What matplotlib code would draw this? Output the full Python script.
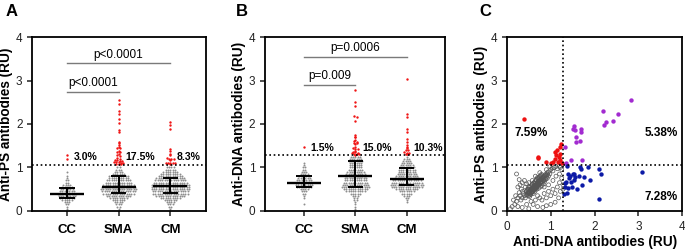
import numpy as np
import matplotlib.pyplot as plt

plt.rcParams['font.family'] = ['Liberation Sans', 'DejaVu Sans']

groups = ['CC', 'SMA', 'CM']

# y rows used for the grey (below cut-off) dots, counts per row
rows = [0.05, 0.10, 0.15, 0.20, 0.25, 0.30, 0.35, 0.40, 0.45, 0.50, 0.55, 0.60, 0.65,
        0.70, 0.75, 0.80, 0.85, 0.90, 0.95, 1.00, 1.05, 1.10, 1.15, 1.20, 1.25]

# Panel A - anti-PS
ps_cc_counts = [1, 1, 2, 3, 5, 7, 8, 9, 7, 6, 5, 4, 2, 2, 1, 1, 0, 1, 0, 0, 0, 0, 0, 0, 0]
ps_sma_counts = [1, 2, 3, 4, 6, 8, 11, 14, 15, 16, 15, 14, 12, 11, 9, 9, 6, 4, 3, 2, 0, 0, 0, 0, 0]
ps_cm_counts = [1, 2, 3, 4, 6, 9, 13, 16, 16, 17, 17, 17, 15, 14, 13, 11, 9, 7, 5, 4, 0, 0, 0, 0, 0]
ps_cc_red = [1.20, 1.29]
ps_sma_red = [2.55, 2.47, 2.31, 2.22, 2.11, 2.03, 1.86, 1.81, 1.59, 1.56, 1.52, 1.48, 1.44, 1.44,
              1.39, 1.36, 1.35, 1.31, 1.29, 1.26, 1.22, 1.20, 1.17, 1.17, 1.15, 1.15, 1.13, 1.13,
              1.12, 1.10, 1.10, 1.08, 1.08, 1.08]
ps_cm_red = [2.05, 1.98, 1.89, 1.42, 1.38, 1.31, 1.29, 1.22, 1.19, 1.19, 1.19, 1.17, 1.11, 1.11,
             1.10, 1.10, 1.10, 1.08]
ps_median = [0.39, 0.56, 0.57]
ps_q1 = [0.29, 0.42, 0.41]
ps_q3 = [0.52, 0.80, 0.76]
ps_cut = 1.05
ps_pct = ['3.0%', '17.5%', '8.3%']

# Panel B - anti-DNA
dna_cc_counts = [0, 0, 1, 0, 0, 1, 1, 2, 3, 4, 7, 8, 8, 7, 6, 5, 4, 3, 2, 2, 1, 1, 0, 0, 0]
dna_sma_counts = [1, 1, 1, 1, 2, 2, 3, 5, 9, 11, 13, 12, 11, 10, 10, 9, 9, 8, 7, 6, 6, 6, 7, 6, 5]
dna_cm_counts = [0, 0, 0, 1, 1, 2, 3, 5, 7, 10, 14, 15, 14, 13, 11, 10, 9, 8, 8, 7, 6, 5, 4, 3, 1]
dna_cc_red = [1.48]
dna_sma_red = [2.78, 2.51, 2.41, 2.18, 2.15, 2.07, 1.75, 1.71, 1.69, 1.63, 1.62, 1.59, 1.56, 1.56,
               1.54, 1.48, 1.45, 1.43, 1.42, 1.39, 1.36, 1.36, 1.34, 1.33, 1.31, 1.31, 1.31, 1.29]
dna_cm_red = [3.03, 2.24, 2.15, 1.88, 1.82, 1.65, 1.59, 1.52, 1.48, 1.45, 1.40, 1.40, 1.36, 1.34,
              1.34, 1.31, 1.31, 1.30]
dna_median = [0.65, 0.81, 0.74]
dna_q1 = [0.54, 0.56, 0.60]
dna_q3 = [0.80, 1.14, 0.99]
dna_cut = 1.28
dna_pct = ['1.5%', '15.0%', '10.3%']

# Panel C - anti-DNA (x) vs anti-PS (y)
neg_x = [0.45, 0.48, 0.50, 0.52, 0.53, 0.55, 0.56, 0.58, 0.60, 0.60, 0.62, 0.63, 0.65, 0.66, 0.68,
         0.70, 0.70, 0.72, 0.73, 0.75, 0.76, 0.78, 0.80, 0.80, 0.82, 0.84, 0.85, 0.88, 0.90, 0.92,
         0.95, 0.98, 1.00, 1.03, 1.05, 1.08, 1.12, 1.15, 1.20, 0.40, 0.42, 0.38, 0.44, 0.47, 0.50,
         0.52, 0.55, 0.57, 0.60, 0.62, 0.64, 0.66, 0.68, 0.70, 0.72, 0.74, 0.76, 0.78, 0.80, 0.83,
         0.86, 0.88, 0.92, 0.95, 0.35, 0.32, 0.30, 0.36, 0.33, 0.28, 0.25, 0.22, 0.18, 0.12, 0.08,
         0.15, 0.20, 0.25, 0.30, 0.28, 0.22, 0.40, 0.45, 0.35, 0.75, 0.80, 0.85, 0.90, 0.95, 1.00,
         1.05, 1.10, 1.15, 1.20, 1.22, 1.18, 1.10, 1.00, 0.90, 0.82, 0.70, 0.60, 0.55, 0.65, 0.70,
         0.85, 0.95, 1.05, 1.12, 1.20, 1.25, 1.28, 1.28, 0.50, 0.45, 0.35, 0.25, 1.25, 1.22, 0.98,
         0.90, 0.75, 0.65, 0.58, 0.50, 0.42, 0.54, 0.59, 0.64, 0.69, 0.57, 0.62, 0.67, 0.72, 0.49,
         0.46, 0.77, 0.61, 0.66, 0.71, 0.53, 0.58, 0.82, 0.87,
         0.48, 0.51, 0.54, 0.57, 0.60, 0.63, 0.66, 0.69, 0.72, 0.75, 0.78, 0.81, 0.84, 0.87, 0.50,
         0.53, 0.56, 0.59, 0.62, 0.65, 0.68, 0.71, 0.74, 0.77, 0.80, 0.83, 0.46, 0.49, 0.52, 0.55,
         0.58, 0.61, 0.64, 0.67, 0.70, 0.73, 0.76, 0.79, 0.90, 0.93]
neg_y = [0.38, 0.42, 0.45, 0.40, 0.48, 0.50, 0.44, 0.52, 0.55, 0.47, 0.58, 0.50, 0.60, 0.54, 0.62,
         0.65, 0.57, 0.68, 0.60, 0.70, 0.64, 0.72, 0.75, 0.66, 0.78, 0.70, 0.80, 0.84, 0.78, 0.88,
         0.90, 0.85, 0.95, 0.98, 0.92, 1.00, 1.02, 0.97, 1.03, 0.35, 0.30, 0.40, 0.45, 0.50, 0.55,
         0.33, 0.38, 0.60, 0.40, 0.65, 0.45, 0.70, 0.50, 0.75, 0.52, 0.78, 0.55, 0.82, 0.58, 0.62,
         0.68, 0.72, 0.75, 0.80, 0.30, 0.25, 0.35, 0.45, 0.50, 0.42, 0.30, 0.22, 0.15, 0.10, 0.05,
         0.25, 0.35, 0.55, 0.60, 0.72, 0.85, 0.70, 0.62, 0.65, 0.30, 0.25, 0.40, 0.30, 0.45, 0.35,
         0.50, 0.40, 0.55, 0.65, 0.45, 0.30, 0.20, 0.15, 0.12, 0.08, 0.10, 0.15, 0.22, 0.25, 0.35,
         0.55, 0.60, 0.70, 0.80, 0.85, 0.75, 0.60, 0.50, 0.05, 0.15, 0.08, 0.10, 0.95, 1.00, 1.02,
         0.95, 0.88, 0.80, 0.70, 0.65, 0.55, 0.46, 0.50, 0.56, 0.61, 0.43, 0.53, 0.58, 0.63, 0.41,
         0.36, 0.66, 0.49, 0.52, 0.59, 0.47, 0.45, 0.71, 0.74,
         0.40, 0.43, 0.47, 0.50, 0.53, 0.57, 0.60, 0.63, 0.66, 0.70, 0.73, 0.76, 0.79, 0.82, 0.35,
         0.38, 0.42, 0.45, 0.48, 0.51, 0.55, 0.58, 0.61, 0.64, 0.68, 0.71, 0.46, 0.50, 0.54, 0.57,
         0.62, 0.64, 0.67, 0.72, 0.77, 0.73, 0.80, 0.84, 0.82, 0.84]
ps_only_x = [0.40, 0.71, 0.70, 0.89, 1.10, 1.14, 1.20, 1.24, 1.12, 1.18, 1.06, 1.16, 1.21, 1.25,
             1.00, 1.10, 1.22]
ps_only_y = [2.12, 1.23, 1.21, 1.13, 1.36, 1.40, 1.46, 1.54, 1.29, 1.25, 1.13, 1.13, 1.17, 1.11,
             1.11, 1.19, 1.30]
both_x = [2.82, 2.19, 2.54, 2.43, 2.26, 2.21, 1.54, 1.51, 1.56, 1.68, 1.69, 1.58, 1.67, 1.57,
          1.33, 1.71, 1.46, 1.35]
both_y = [2.55, 2.30, 2.23, 2.08, 2.04, 1.98, 1.96, 1.89, 1.86, 1.88, 1.81, 1.71, 1.60, 1.59,
          1.46, 1.17, 1.16, 1.11]
dna_only_x = [3.08, 2.09, 2.14, 2.10, 1.85, 1.89, 1.77, 1.66, 1.68, 1.71, 1.51, 1.45, 1.42, 1.36,
              1.34, 1.47, 1.53, 1.59, 1.49, 1.40, 1.33, 1.31, 1.56, 1.40, 1.53, 1.64, 1.32, 1.37]
dna_only_y = [0.90, 0.96, 0.85, 0.28, 1.00, 0.72, 0.78, 1.02, 0.97, 0.59, 0.85, 0.81, 0.75, 1.04,
              0.66, 0.67, 0.71, 0.51, 0.54, 0.53, 0.54, 0.38, 0.79, 0.84, 0.84, 0.80, 0.64, 0.41]
quad_pct = ['7.59%', '5.38%', '7.28%']

GREY = '#8e8e8e'
RED = '#f01414'


def swarm(vals, row, step=0.045):
    vals = np.asarray(vals, float)
    keys = np.round(vals / row).astype(int)
    off = np.zeros(len(vals))
    for k in np.unique(keys):
        idx = np.where(keys == k)[0]
        off[idx] = (np.arange(len(idx)) - (len(idx) - 1) / 2) * step
    return off


def style_axes(ax):
    for s in ax.spines.values():
        s.set_linewidth(1.3)
    ax.tick_params(direction='out', length=3.5, width=1.1, labelsize=8.5, colors='#222222')
    ax.set_ylim(0, 4)
    ax.set_yticks([0, 1, 2, 3, 4])


def dot_panel(ax, counts, reds, med, q1, q3, cut, pct, brackets, ylabel, pct_y):
    for i in range(3):
        grey = np.repeat(rows, counts[i])
        ax.scatter(i + swarm(grey, 0.05), grey, s=2.0, color=GREY, lw=0, zorder=2)
        r = np.array(reds[i])
        ax.scatter(i + swarm(r, 0.04), r, s=3.0, color=RED, lw=0, zorder=2)
        ax.hlines(med[i], i - 0.33, i + 0.33, color='black', lw=1.7, zorder=4)
        ax.hlines([q1[i], q3[i]], i - 0.15, i + 0.15, color='black', lw=1.4, zorder=4)
        ax.vlines(i, q1[i], q3[i], color='black', lw=1.4, zorder=4)
        ax.text(i + 0.13, pct_y, pct[i], fontsize=7.5, fontweight='bold', va='center', ha='left')
    ax.axhline(cut, color='black', lw=1.2, ls=(0, (1, 1.6)), zorder=3)
    for (a, b, y, lab) in brackets:
        ax.plot([a, b], [y, y], color='#7a7a7a', lw=1.0)
        ax.text((a + b) / 2, y + 0.06, lab, ha='center', va='bottom', fontsize=8.5)
    style_axes(ax)
    ax.set_xticks(range(3))
    ax.set_xticklabels(groups, fontsize=9.5, fontweight='bold', color='black')
    ax.tick_params(axis='x', pad=6)
    ax.set_ylabel(ylabel, fontsize=9.8, fontweight='bold', labelpad=2)


fig = plt.figure(figsize=(6.85, 2.52), dpi=100)
axA = fig.add_axes([0.047, 0.163, 0.253, 0.69])
axB = fig.add_axes([0.387, 0.163, 0.263, 0.69])
axC = fig.add_axes([0.740, 0.163, 0.256, 0.69])

dot_panel(axA, [ps_cc_counts, ps_sma_counts, ps_cm_counts], [ps_cc_red, ps_sma_red, ps_cm_red],
          ps_median, ps_q1, ps_q3, ps_cut, ps_pct,
          [(0, 1, 2.74, 'p<0.0001'), (0, 2, 3.40, 'p<0.0001')], 'Anti-PS antibodies (RU)', 1.25)
axA.set_xlim(-0.67, 2.68)

dot_panel(axB, [dna_cc_counts, dna_sma_counts, dna_cm_counts], [dna_cc_red, dna_sma_red, dna_cm_red],
          dna_median, dna_q1, dna_q3, dna_cut, dna_pct,
          [(0, 1, 2.90, 'p=0.009'), (0, 2, 3.55, 'p=0.0006')], 'Anti-DNA antibodies (RU)', 1.44)
axB.set_xlim(-0.76, 2.75)

axC.scatter(neg_x, neg_y, s=8, facecolors='none', edgecolors='#555555', lw=0.5, zorder=2)
axC.scatter(ps_only_x, ps_only_y, s=10, color='#ee1111', lw=0, zorder=3)
axC.scatter(both_x, both_y, s=10, color='#a22bd0', lw=0, zorder=3)
axC.scatter(dna_only_x, dna_only_y, s=10, color='#0c1aa6', lw=0, zorder=3)
axC.axhline(ps_cut, color='black', lw=1.2, ls=(0, (1, 1.6)), zorder=4)
axC.axvline(dna_cut, color='black', lw=1.2, ls=(0, (1, 1.6)), zorder=4)
axC.text(0.56, 1.79, quad_pct[0], fontsize=8.5, fontweight='bold', ha='center', va='center')
axC.text(3.51, 1.79, quad_pct[1], fontsize=8.5, fontweight='bold', ha='center', va='center')
axC.text(3.51, 0.31, quad_pct[2], fontsize=8.5, fontweight='bold', ha='center', va='center')
style_axes(axC)
axC.set_xlim(0, 4)
axC.set_xticks([0, 1, 2, 3, 4])
axC.set_xlabel('Anti-DNA antibodies (RU)', fontsize=9.8, fontweight='bold', labelpad=2)
axC.set_ylabel('Anti-PS antibodies  (RU)', fontsize=9.8, fontweight='bold', labelpad=2)

for x, lab in [(0.008, 'A'), (0.345, 'B'), (0.700, 'C')]:
    fig.text(x, 0.985, lab, fontsize=12, fontweight='bold', va='top')

fig.savefig('out.png', dpi=100)
